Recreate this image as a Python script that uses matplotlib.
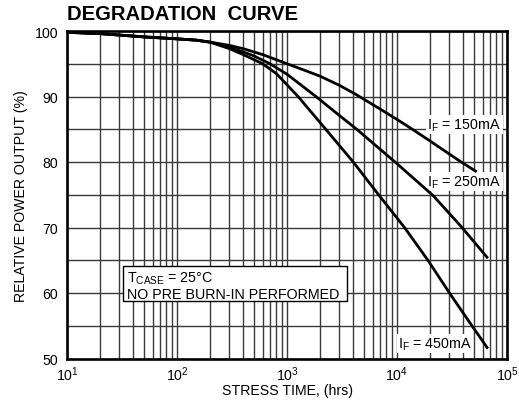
import matplotlib
matplotlib.use('Agg')
import matplotlib.pyplot as plt
from matplotlib.patches import Rectangle
from matplotlib.ticker import LogLocator, MultipleLocator, NullFormatter, FixedLocator

plt.rcParams['font.family'] = 'Liberation Sans'
plt.rcParams['mathtext.fontset'] = 'custom'
plt.rcParams['mathtext.rm'] = 'Liberation Sans'
plt.rcParams['mathtext.it'] = 'Liberation Sans:italic'
plt.rcParams['mathtext.bf'] = 'Liberation Sans:bold'

# ---- data (stress time in hrs, relative power output in %) ----
t_150 = [10, 20, 50, 100, 150, 200, 300, 400, 600, 1000, 1500, 2000, 3000, 4150, 7000, 10000, 13500, 20000, 36000, 53000]
v_150 = [99.8, 99.6, 99.1, 98.8, 98.6, 98.3, 97.8, 97.3, 96.4, 95.0, 93.9, 93.1, 91.7, 90.4, 88.1, 86.5, 85.1, 83.2, 80.3, 78.5]

t_250 = [10, 20, 50, 100, 150, 200, 300, 400, 500, 700, 1000, 1800, 2800, 4300, 9600, 16300, 21500, 39000, 67000]
v_250 = [99.8, 99.6, 99.1, 98.8, 98.6, 98.3, 97.5, 96.8, 96.2, 95.0, 93.4, 90.1, 87.5, 85.0, 80.0, 76.6, 74.8, 70.0, 65.3]

t_450 = [10, 20, 50, 100, 150, 200, 300, 400, 600, 800, 1260, 2250, 4000, 6800, 11700, 19100, 30000, 48000, 67000]
v_450 = [99.8, 99.6, 99.1, 98.8, 98.6, 98.3, 97.3, 96.4, 95.0, 93.5, 90.0, 85.0, 80.0, 75.0, 70.0, 65.0, 60.0, 55.0, 51.5]

series_labels = ['I$_{\\rm F}$ = 150mA', 'I$_{\\rm F}$ = 250mA', 'I$_{\\rm F}$ = 450mA']
title = 'DEGRADATION  CURVE'
xlabel = 'STRESS TIME, (hrs)'
ylabel = 'RELATIVE POWER OUTPUT (%)'
note_line1 = 'T$_{\\rm CASE}$ = 25°C'
note_line2 = 'NO PRE BURN-IN PERFORMED'
y_ticks = [50, 60, 70, 80, 90, 100]

fig = plt.figure(figsize=(5.19, 4.06), dpi=100)
ax = fig.add_axes([67/519, 1-359.5/406, 440/519, 327.5/406])

ax.set_xscale('log')
ax.set_xlim(10, 1e5)
ax.set_ylim(50, 100)

ax.xaxis.set_major_locator(LogLocator(base=10, numticks=10))
ax.xaxis.set_minor_locator(LogLocator(base=10, subs=range(2, 10), numticks=20))
ax.xaxis.set_minor_formatter(NullFormatter())
ax.yaxis.set_major_locator(FixedLocator(y_ticks))
ax.yaxis.set_minor_locator(MultipleLocator(5))

gcol = '#3a3a3a'
ax.grid(True, which='both', axis='both', color=gcol, linewidth=1.0, zorder=0)
ax.set_axisbelow(True)
ax.tick_params(which='both', length=0)
ax.tick_params(axis='x', pad=4, labelsize=10.2)
ax.tick_params(axis='y', pad=6.5, labelsize=10.2)

for s in ax.spines.values():
    s.set_linewidth(1.9)
    s.set_color('black')

for t, v in [(t_150, v_150), (t_250, v_250), (t_450, v_450)]:
    ax.plot(t, v, color='black', linewidth=2.0, zorder=4, solid_capstyle='butt',
            solid_joinstyle='round')

lab_kw = dict(fontsize=10.3, ha='right', va='baseline', zorder=3,
              bbox=dict(facecolor='white', edgecolor='none', pad=1.0))
ax.text(88500, 85.15, series_labels[0], **lab_kw)
ax.text(88500, 76.4, series_labels[1], **lab_kw)
ax.text(48000, 51.7, series_labels[2], **lab_kw)

# note box
x0 = (123-67)/440; x1 = (347-67)/440
y0 = (359.5-302)/327.5; y1 = (359.5-267)/327.5
ax.add_patch(Rectangle((x0, y0), x1-x0, y1-y0, transform=ax.transAxes,
                       facecolor='white', edgecolor='black', linewidth=1.0, zorder=3))
ax.text((127-67)/440, (359.5-282.7)/327.5, note_line1, transform=ax.transAxes,
        fontsize=10.3, ha='left', va='baseline', zorder=4)
ax.text((127-67)/440, (359.5-299)/327.5, note_line2, transform=ax.transAxes,
        fontsize=10.3, ha='left', va='baseline', zorder=4)

ax.set_xlabel(xlabel, fontsize=10.2)
ax.xaxis.set_label_coords(0.5, (359.5-384)/327.5)
ax.set_ylabel(ylabel, fontsize=10.2)
ax.yaxis.set_label_coords((28-67)/440, 0.5)

fig.text(67/519, 1-15/406, title, fontsize=14.6, fontweight='bold', ha='left', va='center')

fig.savefig('out.png', dpi=100)
